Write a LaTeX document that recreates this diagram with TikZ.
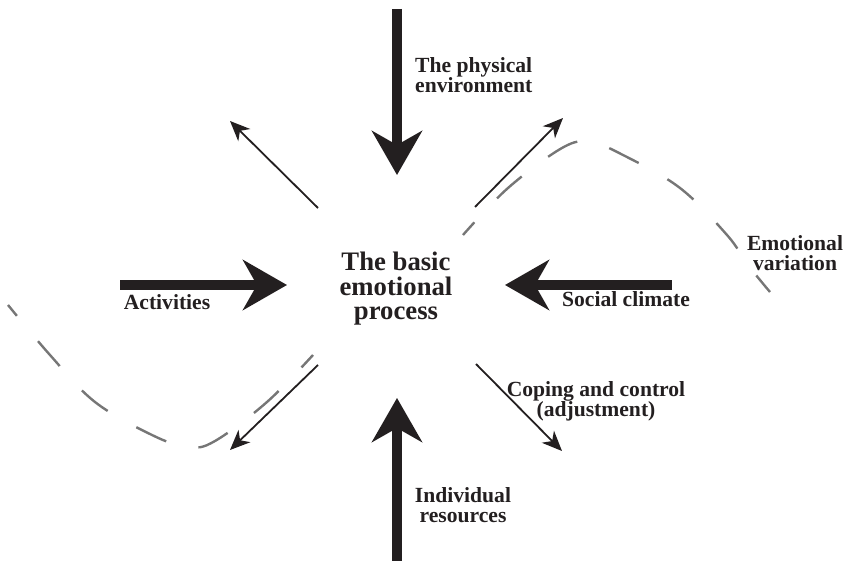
\documentclass[tikz,border=0pt]{standalone}
\usepackage{fontspec}
\setmainfont{Liberation Serif}
\usepackage{xcolor}
\usepackage{tikz}
\usetikzlibrary{positioning, arrows.meta}
\definecolor{ink}{RGB}{35,31,32}
\definecolor{wavegray}{RGB}{118,118,118}
\tikzstyle{core}=[%
      text=ink, font=\fontsize{26.7}{24.5}\selectfont\bfseries, align=center, inner sep=0pt
]
\tikzstyle{lbl}=[%
      text=ink, font=\fontsize{21.6}{20.5}\selectfont\bfseries, inner sep=0pt
]
\tikzstyle{influx}=[%
      draw=ink, line width=10pt, -{Stealth[length=44pt, width=50pt, inset=14pt]}
]
\tikzstyle{outflow}=[%
      draw=ink, line width=1.8pt, -{Stealth[length=20pt, width=17pt, inset=6pt]}
]
\tikzstyle{wave}=[%
      draw=wavegray, line width=2.4pt
]

\begin{document}
\begin{tikzpicture}[x=1pt, y=-1pt, on grid]
    \useasboundingbox (0,0) rectangle (844,561);

    \coordinate (hub) at (397,285);
    \node[core, anchor=north] (process) at (396,252) {The basic\\emotional\\process};

    \coordinate[above=110pt of hub]              (envtip);
    \coordinate[above=276pt of hub]              (envtail);
    \coordinate[below=113pt of hub]              (restip);
    \coordinate[below=276pt of hub]              (restail);
    \coordinate[left=110pt of hub]               (actip);
    \coordinate[left=277pt of hub]               (actail);
    \coordinate[right=108pt of hub]              (soctip);
    \coordinate[right=275pt of hub]              (soctail);
    \coordinate[above left=77pt and 79pt of hub]     (nwtail);
    \coordinate[above left=164pt and 167pt of hub]   (nwtip);
    \coordinate[above right=78pt and 78pt of hub]    (netail);
    \coordinate[above right=167pt and 166pt of hub]  (netip);
    \coordinate[below left=80pt and 79pt of hub]     (swtail);
    \coordinate[below left=165pt and 167pt of hub]   (swtip);
    \coordinate[below right=79pt and 79pt of hub]    (setail);
    \coordinate[below right=166pt and 165pt of hub]  (setip);

    \node[lbl, align=left, anchor=north west] (env)  at (415,57)  {The physical\\environment};
    \node[lbl, anchor=base]                   (act)  at (167,310) {Activities};
    \node[lbl, anchor=base]                   (soc)  at (626,307) {Social climate};
    \node[lbl, align=center, anchor=north]    (var)  at (795,235) {Emotional\\variation};
    \node[lbl, align=center, anchor=north]    (cope) at (596,381) {Coping and control\\(adjustment)};
    \node[lbl, align=center, anchor=north]    (res)  at (463,487) {Individual\\resources};

    % emotional variation, broken behind the centre text
    \draw[wave, dash pattern=on 33pt off 33pt, dash phase=19pt] plot[smooth, tension=0.6]
        coordinates {(8,305) (50,355) (95,402) (152,435) (188,447) (215,441) (267,402) (313,355)};
    \draw[wave, dash pattern=on 33pt off 33pt, dash phase=16pt] plot[smooth, tension=0.6]
        coordinates {(463,235) (508,188) (562,148) (590,142) (623,155) (680,188) (727,235)
        (748,265) (770,292)};

    \draw[influx] (envtail) -- (envtip);
    \draw[influx] (restail) -- (restip);
    \draw[influx] (actail) -- (actip);
    \draw[influx] (soctail) -- (soctip);

    \draw[outflow] (nwtail) -- (nwtip);
    \draw[outflow] (netail) -- (netip);
    \draw[outflow] (swtail) -- (swtip);
    \draw[outflow] (setail) -- (setip);
\end{tikzpicture}
\end{document}
